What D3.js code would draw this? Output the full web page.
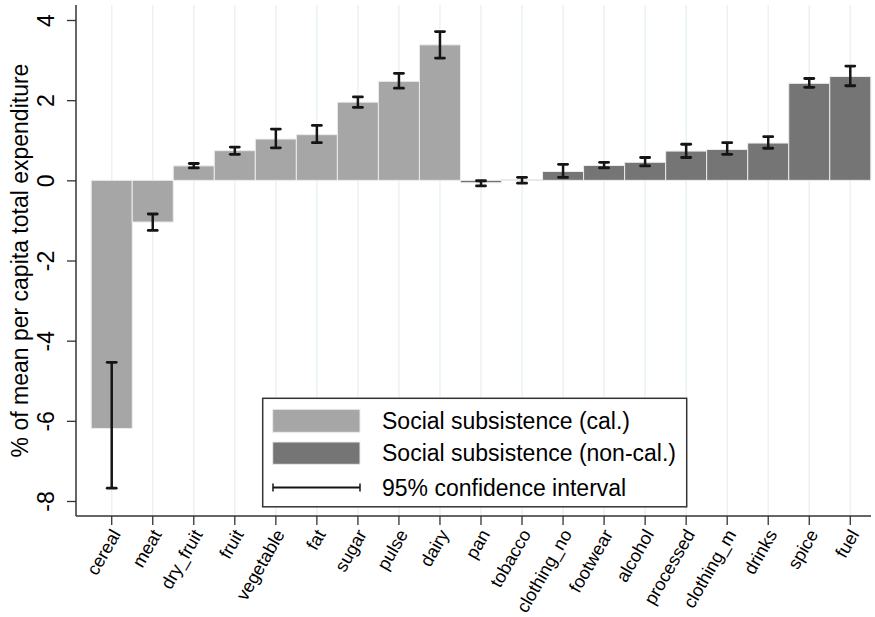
<!DOCTYPE html>
<html>
<head>
<meta charset="utf-8">
<script src="https://cdn.jsdelivr.net/npm/d3@7"></script>
<style>
  html, body { margin: 0; padding: 0; background: #fff; }
  svg { display: block; font-family: "Liberation Sans", Arial, sans-serif; }
</style>
</head>
<body>
<svg id="chart" width="875" height="617"></svg>
<script>
const categories = ["cereal","meat","dry_fruit","fruit","vegetable","fat","sugar","pulse","dairy",
  "pan","tobacco","clothing_no","footwear","alcohol","processed","clothing_m","drinks","spice","fuel"];
const groups = ["cal","cal","cal","cal","cal","cal","cal","cal","cal",
  "non","non","non","non","non","non","non","non","non","non"];
const values = [-6.19,-1.04,0.36,0.74,1.03,1.14,1.95,2.47,3.38,
  -0.06,0.02,0.22,0.37,0.45,0.73,0.77,0.93,2.42,2.59];
const ciLow  = [-7.68,-1.25,0.31,0.65,0.81,0.94,1.82,2.30,3.05,
  -0.14,-0.07,0.075,0.31,0.36,0.57,0.65,0.80,2.32,2.36];
const ciHigh = [-4.54,-0.84,0.42,0.83,1.28,1.37,2.08,2.67,3.71,
  -0.01,0.075,0.40,0.45,0.57,0.90,0.94,1.09,2.54,2.85];
const yTicks = [-8,-6,-4,-2,0,2,4];
const legendLabels = ["Social subsistence (cal.)","Social subsistence (non-cal.)","95% confidence interval"];

const colors = { cal: "#a6a6a6", non: "#757575" };
const FONT = '"Liberation Sans", Arial, sans-serif';
const svg = d3.select("#chart");

const axisX0 = 76, plotTop = 5, axisY0 = 516;
const x = d3.scaleBand().domain(categories).range([91.2, 870.8]).padding(0);
const y = d3.scaleLinear().domain([-8, 4]).range([501, 20]);

// gridlines
svg.append("g").selectAll("line").data(categories).join("line")
  .attr("x1", d => x(d) + x.bandwidth()/2).attr("x2", d => x(d) + x.bandwidth()/2)
  .attr("y1", plotTop).attr("y2", axisY0)
  .attr("stroke", "#eaf2f3").attr("stroke-width", 1.5);

// bars
const data = categories.map((c, i) => ({c, g: groups[i], v: values[i], lo: ciLow[i], hi: ciHigh[i]}));
svg.append("g").selectAll("rect").data(data).join("rect")
  .attr("x", d => x(d.c)).attr("width", x.bandwidth())
  .attr("y", d => y(Math.max(0, d.v))).attr("height", d => Math.abs(y(d.v) - y(0)))
  .attr("fill", d => colors[d.g]).attr("stroke", "#ececec").attr("stroke-width", 1);

// error bars
const eb = svg.append("g").selectAll("g").data(data).join("g")
  .attr("transform", d => `translate(${x(d.c) + x.bandwidth()/2},0)`);
eb.append("line").attr("y1", d => y(d.lo)).attr("y2", d => y(d.hi))
  .attr("stroke", "#151515").attr("stroke-width", 2.5);
eb.append("line").attr("x1", -4.5).attr("x2", 4.5).attr("y1", d => y(d.lo)).attr("y2", d => y(d.lo))
  .attr("stroke", "#151515").attr("stroke-width", 2.8).attr("stroke-linecap", "round");
eb.append("line").attr("x1", -4.5).attr("x2", 4.5).attr("y1", d => y(d.hi)).attr("y2", d => y(d.hi))
  .attr("stroke", "#151515").attr("stroke-width", 2.8).attr("stroke-linecap", "round");

// y axis
const yAxis = svg.append("g").attr("transform", `translate(${axisX0},0)`)
  .call(d3.axisLeft(y).tickValues(yTicks).tickSize(9).tickFormat(d => String(d)));
yAxis.select(".domain").attr("d", `M0,${plotTop}V${axisY0}`).attr("stroke", "#333").attr("stroke-width", 1.5);
yAxis.selectAll(".tick line").attr("stroke", "#333").attr("stroke-width", 1.3);
yAxis.selectAll(".tick text")
  .attr("x", null).attr("dy", null)
  .attr("text-anchor", "middle")
  .attr("transform", "translate(-30,0) rotate(-90)")
  .attr("dy", "0.35em")
  .attr("font-size", 23).attr("fill", "#000")
  .style("font-family", FONT);

// x axis
const xAxis = svg.append("g").attr("transform", `translate(0,${axisY0})`)
  .call(d3.axisBottom(x).tickSize(9));
xAxis.select(".domain").attr("d", `M${axisX0},0H871`).attr("stroke", "#333").attr("stroke-width", 1.5);
xAxis.selectAll(".tick line").attr("stroke", "#333").attr("stroke-width", 1.3);
xAxis.selectAll(".tick text")
  .attr("y", null).attr("dy", null)
  .attr("text-anchor", "end")
  .attr("transform", "translate(4,15) rotate(-60)")
  .attr("dy", "0.35em")
  .attr("font-size", 18).attr("fill", "#000")
  .style("font-family", FONT);

// y title
svg.append("text").attr("transform", `translate(20,${(plotTop + axisY0)/2}) rotate(-90)`)
  .attr("text-anchor", "middle").attr("dy", "0.35em")
  .attr("font-size", 23).attr("fill", "#000")
  .text("% of mean per capita total expenditure");

// legend
const lg = svg.append("g");
lg.append("rect").attr("x", 262.7).attr("y", 398.3).attr("width", 424).attr("height", 108.5)
  .attr("fill", "#fff").attr("stroke", "#333").attr("stroke-width", 1.5);
const rows = [420.8, 453.2, 487.5];
lg.append("rect").attr("x", 272.7).attr("y", 409.3).attr("width", 87.3).attr("height", 23)
  .attr("fill", colors.cal).attr("stroke", "#ececec");
lg.append("rect").attr("x", 272.7).attr("y", 442).attr("width", 87.3).attr("height", 22.3)
  .attr("fill", colors.non).attr("stroke", "#ececec");
lg.append("line").attr("x1", 273).attr("x2", 360).attr("y1", rows[2]).attr("y2", rows[2])
  .attr("stroke", "#151515").attr("stroke-width", 2);
[273, 360].forEach(xx => lg.append("line").attr("x1", xx).attr("x2", xx)
  .attr("y1", rows[2] - 4).attr("y2", rows[2] + 4).attr("stroke", "#151515").attr("stroke-width", 1.5));
lg.selectAll("text.lab").data(legendLabels).join("text").attr("class", "lab")
  .attr("x", 382).attr("y", (d, i) => rows[i]).attr("dy", "0.35em")
  .attr("font-size", 23).attr("fill", "#000").text(d => d);
</script>
</body>
</html>
